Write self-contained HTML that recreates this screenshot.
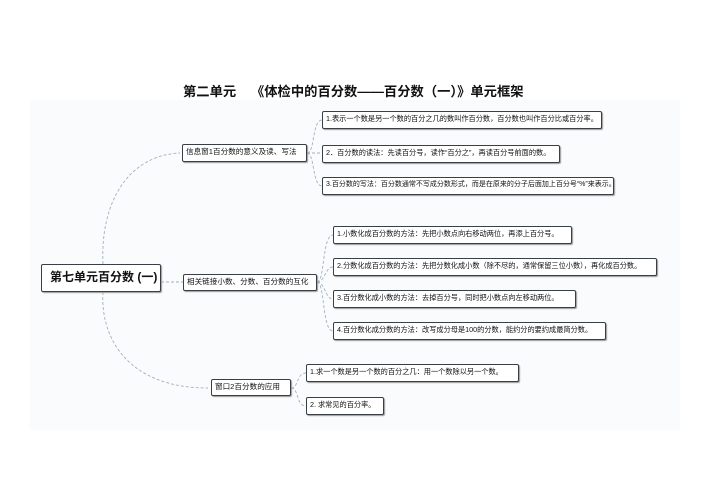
<!DOCTYPE html>
<html><head><meta charset="utf-8"><style>
body{margin:0;width:708px;height:500px;background:#fff;position:relative;overflow:hidden;font-family:"Liberation Sans","Noto Sans CJK SC",sans-serif}
.b{position:absolute;box-sizing:border-box;border:1.5px solid #3a3f45;border-radius:2px;background:#fff;font-size:7.2px;line-height:14px;padding:0 3px;white-space:nowrap;overflow:hidden;color:#111;box-shadow:1px 1px 1px #999}
.t{position:absolute;left:183px;top:81px;font-size:13.3px;font-weight:bold;color:#111;white-space:nowrap}
</style></head><body>
<div style="position:absolute;left:30px;top:100px;width:650px;height:330px;background:#fafbfc"></div>
<div class="t">第二单元&nbsp;&nbsp;&nbsp;&nbsp;《体检中的百分数——百分数（一）》单元框架</div>
<svg width="708" height="500" style="position:absolute;left:0;top:0" fill="none" stroke="#9fb2c0" stroke-width="0.9" stroke-dasharray="3,2">
<path d="M103 264 C100 200,130 155,180 153"/>
<path d="M103 292 C100 340,130 388,208 388"/>
<path d="M161 282 L183 282"/>
<path d="M307 153 C315 153,312 120,322 120"/>
<path d="M307 153 L322 153"/>
<path d="M307 153 C315 153,312 186,322 186"/>
<path d="M317 282 C325 282,322 235,333 235"/>
<path d="M317 282 C325 282,325 267,333 267"/>
<path d="M317 282 C325 282,325 299,333 299"/>
<path d="M317 282 C325 282,322 331,333 331"/>
<path d="M291 388 C299 388,296 373,306 373"/>
<path d="M291 388 C299 388,296 406,306 406"/>
</svg>
<div class="b" style="left:41px;top:264px;width:120px;height:28px;font-size:12px;font-weight:bold;line-height:25px;padding-left:8px">第七单元百分数 (一)</div>
<div class="b" style="left:182px;top:144px;width:125px;height:18px;font-size:7.6px">信息窗1百分数的意义及读、写法</div>
<div class="b" style="left:183px;top:274px;width:134px;height:17px;font-size:7.6px">相关链接小数、分数、百分数的互化</div>
<div class="b" style="left:211px;top:379px;width:80px;height:17px;font-size:7.6px">窗口2百分数的应用</div>
<div class="b" style="left:322px;top:111px;width:280px;height:18px">1.表示一个数是另一个数的百分之几的数叫作百分数，百分数也叫作百分比或百分率。</div>
<div class="b" style="left:322px;top:145px;width:238px;height:18px">2．百分数的读法：先读百分号，读作“百分之”，再读百分号前面的数。</div>
<div class="b" style="left:322px;top:177px;width:292px;height:18px;font-size:7px">3.百分数的写法：百分数通常不写成分数形式，而是在原来的分子后面加上百分号“%”来表示。</div>
<div class="b" style="left:333px;top:226px;width:239px;height:18px">1.小数化成百分数的方法：先把小数点向右移动两位，再添上百分号。</div>
<div class="b" style="left:333px;top:258px;width:324px;height:18px">2.分数化成百分数的方法：先把分数化成小数（除不尽的，通常保留三位小数），再化成百分数。</div>
<div class="b" style="left:333px;top:290px;width:243px;height:18px">3.百分数化成小数的方法：去掉百分号，同时把小数点向左移动两位。</div>
<div class="b" style="left:333px;top:322px;width:273px;height:18px">4.百分数化成分数的方法：改写成分母是100的分数，能约分的要约成最简分数。</div>
<div class="b" style="left:306px;top:364px;width:213px;height:18px">1.求一个数是另一个数的百分之几：用一个数除以另一个数。</div>
<div class="b" style="left:306px;top:397px;width:78px;height:18px">2. 求常见的百分率。</div>
</body></html>
